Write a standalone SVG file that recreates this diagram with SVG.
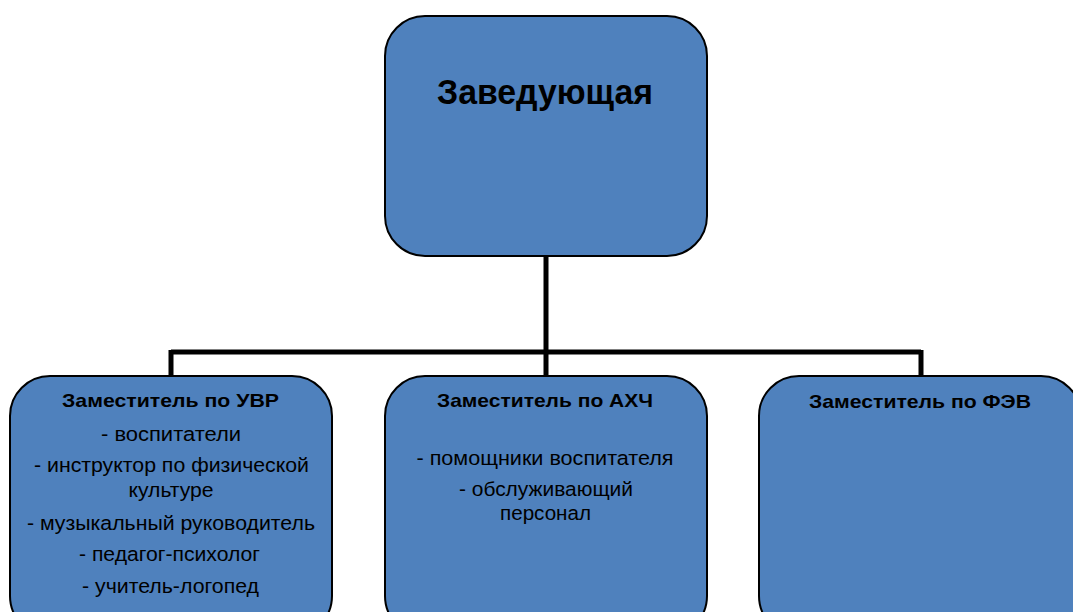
<svg xmlns="http://www.w3.org/2000/svg" width="1073" height="612" viewBox="0 0 1073 612">
<style>
.box{fill:#4F81BD;stroke:#000;stroke-width:2}
.t{font-family:"Liberation Sans",Arial,sans-serif;fill:#000;text-anchor:middle}
.h{font-weight:bold;font-size:19px}
.r{font-size:20.5px}
.c{fill:none;stroke:#000;stroke-width:5}
</style>
<rect width="1073" height="612" fill="#fff"/>
<g id="connectors">
<path class="c" d="M546 256 V352 M171 352 H921 M171 350 V377 M546 352 V377 M921 350 V377"/>
</g>
<g id="head">
<rect class="box" x="385" y="16" width="322" height="240" rx="40"/>
<text class="t" x="545" y="104" font-size="34.5" font-weight="bold" textLength="216" lengthAdjust="spacingAndGlyphs">Заведующая</text>
</g>
<g id="uvr">
<rect class="box" x="10" y="376" width="322" height="260" rx="40"/>
<text class="t h" x="170.5" y="407" textLength="217" lengthAdjust="spacingAndGlyphs">Заместитель по УВР</text>
<text class="t r" x="171" y="441" textLength="140" lengthAdjust="spacingAndGlyphs">- воспитатели</text>
<text class="t r" x="171.5" y="472" textLength="275" lengthAdjust="spacingAndGlyphs">- инструктор по физической</text>
<text class="t r" x="171" y="497" textLength="85" lengthAdjust="spacingAndGlyphs">культуре</text>
<text class="t r" x="171" y="530" textLength="288" lengthAdjust="spacingAndGlyphs">- музыкальный руководитель</text>
<text class="t r" x="169.5" y="561" textLength="181" lengthAdjust="spacingAndGlyphs">- педагог-психолог</text>
<text class="t r" x="170.5" y="593" textLength="177" lengthAdjust="spacingAndGlyphs">- учитель-логопед</text>
</g>
<g id="ahch">
<rect class="box" x="385" y="376" width="322" height="260" rx="40"/>
<text class="t h" x="545" y="407" textLength="216" lengthAdjust="spacingAndGlyphs">Заместитель по АХЧ</text>
<text class="t r" x="545" y="465" textLength="257" lengthAdjust="spacingAndGlyphs">- помощники воспитателя</text>
<text class="t r" x="546" y="496" textLength="174" lengthAdjust="spacingAndGlyphs">- обслуживающий</text>
<text class="t r" x="545.5" y="520" textLength="91" lengthAdjust="spacingAndGlyphs">персонал</text>
</g>
<g id="fev">
<rect class="box" x="759" y="376" width="322" height="260" rx="40"/>
<text class="t h" x="920" y="408" textLength="222" lengthAdjust="spacingAndGlyphs">Заместитель по ФЭВ</text>
</g>
</svg>
